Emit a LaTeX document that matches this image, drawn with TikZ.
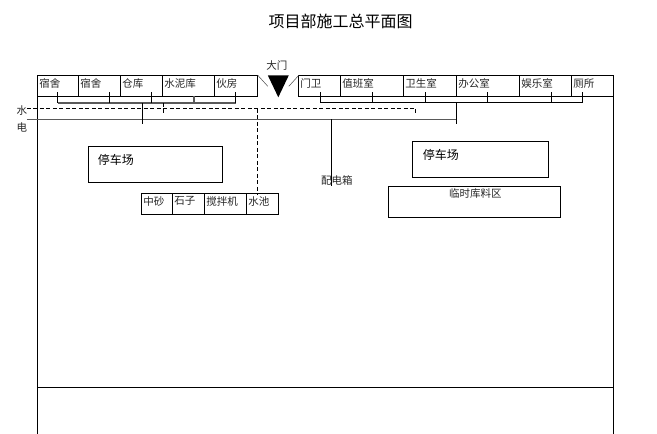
\documentclass[tikz,border=0pt]{standalone}
\usepackage{fontspec}
\setmainfont{Noto Sans CJK SC}
\tikzset{
  x=1pt,y=-1pt,
  wall/.style={draw=black,line width=0.9pt,fill=none,inner sep=0pt,outer sep=0pt},
  lbl/.style={inner sep=0pt,outer sep=0pt,font=\fontsize{10.5}{10.5}\selectfont,text=black!85},
  big/.style={inner sep=0pt,outer sep=0pt,font=\fontsize{12}{12}\selectfont,text=black},
  wire/.style={draw=black,line width=0.9pt},
  graywire/.style={draw=black!65,line width=1.4pt},
  waterwire/.style={draw=black,line width=0.8pt,dash pattern=on 4pt off 2.5pt},
}
% name, x0, x1, y0, y1, text
\newcommand{\cellbox}[6]{%
  \node[wall,minimum width=#3pt-#2pt,minimum height=#5pt-#4pt,anchor=north west] (#1) at (#2,#4) {};
  \node[lbl,anchor=west] (#1t) at (#2+1.5,#4+8) {#6};
}
\begin{document}
\begin{tikzpicture}
\useasboundingbox[fill=white] (0,0) rectangle (657,434);
\begin{scope}[shift={(-0.2,0.3)}]
\node[inner sep=0pt,font=\fontsize{16}{16}\selectfont] (title) at (340.7,20.7) {项目部施工总平面图};
\node[lbl] (gate) at (277,65.7) {大门};

% top row
\cellbox{a1}{38}{79}{75}{96}{宿舍}
\cellbox{a2}{79}{121}{75}{96}{宿舍}
\cellbox{a3}{121}{163}{75}{96}{仓库}
\cellbox{a4}{163}{215}{75}{96}{水泥库}
\cellbox{a5}{215}{258}{75}{96}{伙房}
\cellbox{b1}{299}{341}{75}{96}{门卫}
\cellbox{b2}{341}{404}{75}{96}{值班室}
\cellbox{b3}{404}{457}{75}{96}{卫生室}
\cellbox{b4}{457}{520}{75}{96}{办公室}
\cellbox{b5}{520}{572}{75}{96}{娱乐室}
\cellbox{b6}{572}{614}{75}{96}{厕所}

% outer walls
\coordinate (fl) at (38,434);
\coordinate (fr) at (614,434);
\coordinate (bl) at (38,387);
\coordinate (br) at (614,387);
\draw[wire] (a1.south west) -- (fl);
\draw[wire] (b6.south east) -- (fr);
\draw[wire] (bl) -- (br);

% gate
\coordinate (gl) at (268,86);
\coordinate (gr) at (289,86);
\fill[black] (268,75) -- (289,75) -- (278.5,97) -- cycle;
\draw[line width=0.5pt,draw=black!70] (a5.north east) -- (gl);
\draw[line width=0.5pt,draw=black!70] (b1.north west) -- (gr);

% branch wires
\coordinate (l0) at (58,102.5);
\coordinate (l1) at (236,102.5);
\draw[graywire] (l0) -- (l1);
\foreach \x in {58,110,152,236} \draw[wire] (\x,92) -- (\x,102.5);
\draw[graywire] (194,96) -- (194,102.5);
\coordinate (r0) at (321,102.5);
\coordinate (r1) at (583,102.5);
\draw[wire] (r0) -- (r1);
\foreach \x in {321,373,426,488,552,583} \draw[wire] (\x,92) -- (\x,102.5);

% water
\node[lbl] (water) at (22,110.7) {水};
\coordinate (w0) at (27,108.5);
\coordinate (w1) at (416,108.5);
\draw[waterwire] (w0) -- (w1);
\draw[waterwire] (w1) -- (416,113);
\draw[waterwire] (163.5,102.5) -- (163.5,113);

% power
\node[lbl] (power) at (22,126.7) {电};
\coordinate (e0) at (27,119);
\coordinate (e1) at (457,119);
\draw[graywire] (e0) -- (e1);
\draw[wire] (142.5,102.5) -- (142.5,123.5);
\draw[wire] (457,102.5) -- (457,123.5);
\node[lbl] (panel) at (337,179.7) {配电箱};
\draw[wire] (331.5,119) -- (331.5,186);

% parking
\node[wall,minimum width=134pt,minimum height=36pt,anchor=north west] (p1) at (89,146) {};
\node[big,anchor=west] (p1t) at (98,159.2) {停车场};
\node[wall,minimum width=136pt,minimum height=36pt,anchor=north west] (p2) at (413,141) {};
\node[big,anchor=west] (p2t) at (423,154.2) {停车场};

% materials row
\cellbox{c1}{142}{173}{193}{214}{中砂}
\cellbox{c2}{173}{205}{193}{214}{石子}
\cellbox{c3}{205}{247}{193}{214}{搅拌机}
\cellbox{c4}{247}{279}{193}{214}{水池}
\node[wall,minimum width=172pt,minimum height=31pt,anchor=north west] (st) at (389,186) {};
\node[lbl] (stt) at (475.5,193.7) {临时库料区};

% water drop to pool
\draw[waterwire] (w1 -| c4.north) ++(-5,0) coordinate (wd) -- (wd |- c4.north) -- ++(0,2);
\end{scope}
\end{tikzpicture}
\end{document}
